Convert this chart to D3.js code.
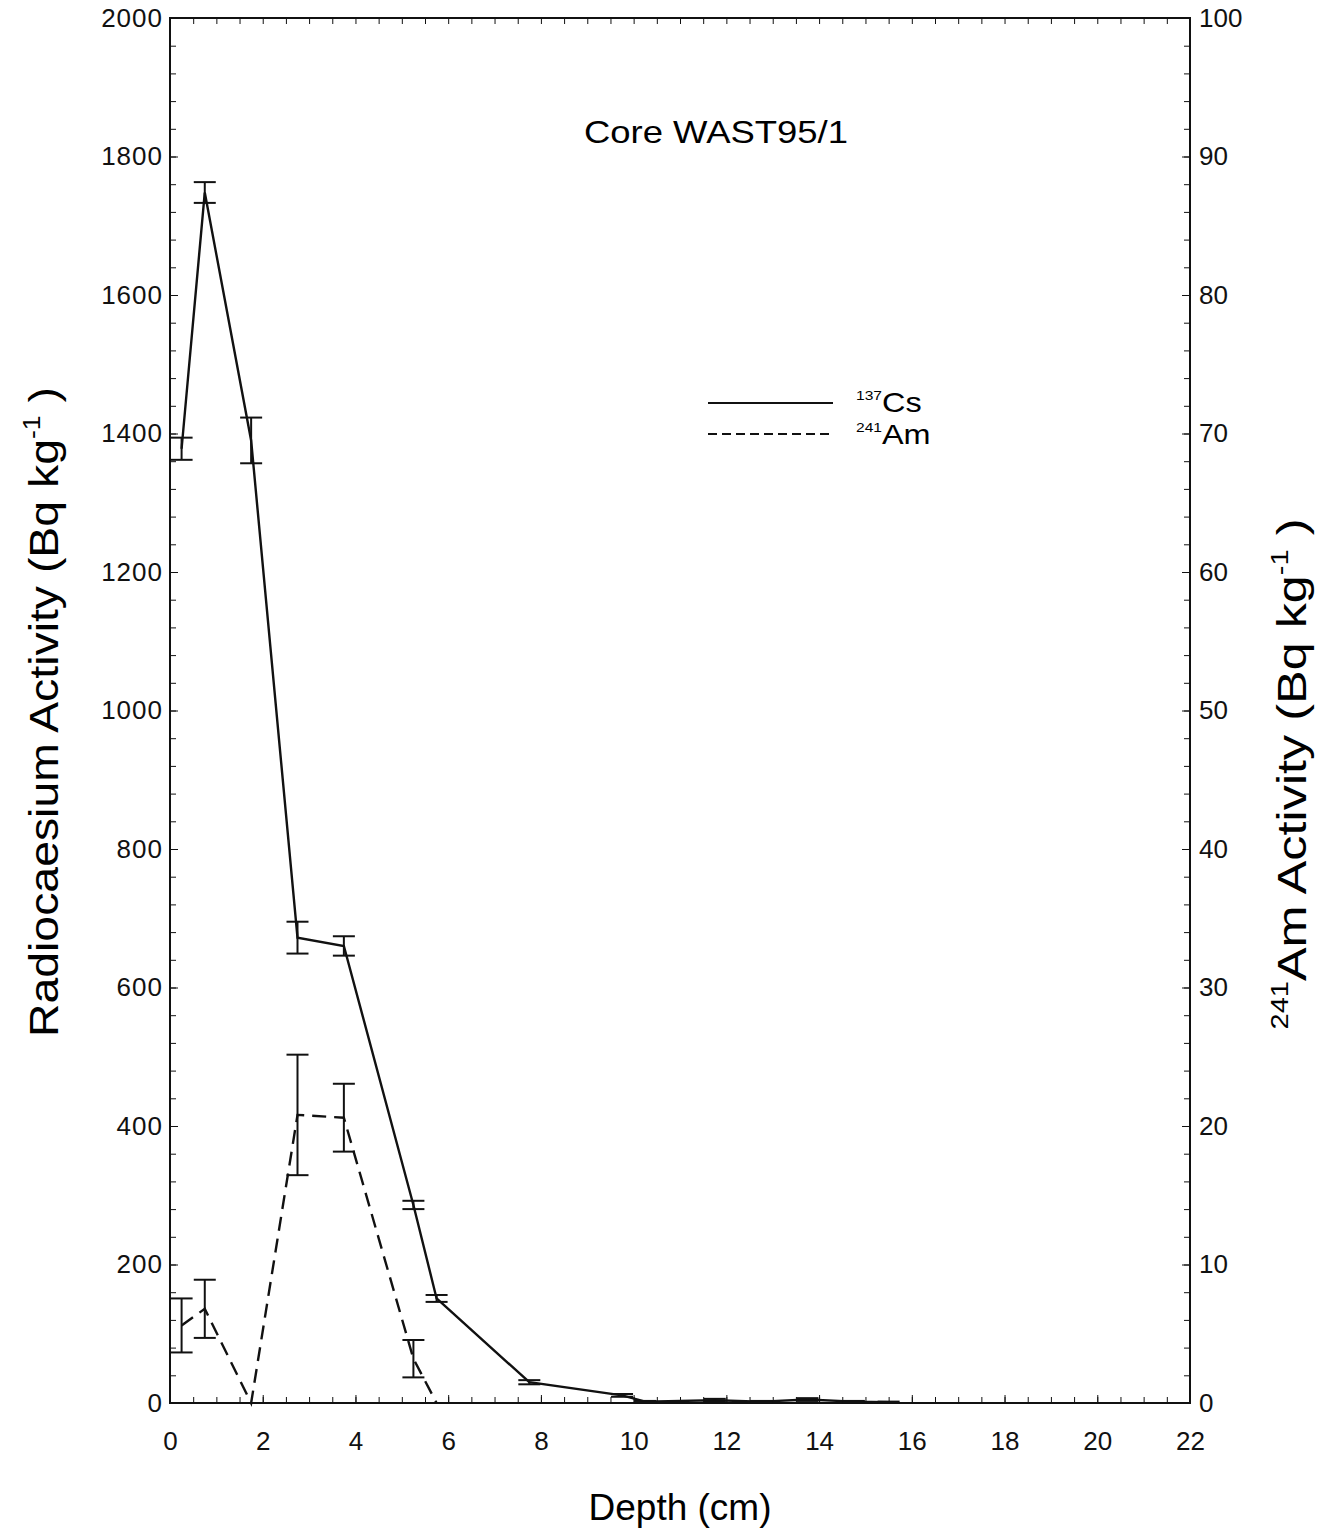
<!DOCTYPE html>
<html>
<head>
<meta charset="utf-8">
<script src="https://cdn.jsdelivr.net/npm/d3@7"></script>
<style>
  body { margin: 0; background: #fff; }
  svg { font-family: "Liberation Sans", Arial, Helvetica, sans-serif; }
  .axis path, .axis line { stroke: #111; }
  .axis text { fill: #111; }
</style>
</head>
<body>
<script>
(function(){

//data
var csDepth = [0.25, 0.75, 1.75, 2.75, 3.75, 5.25, 5.75, 7.75, 9.75, 10.25, 11.75, 12.75, 13.75, 14.75, 15.5];
var csValue = [1378, 1748, 1390, 672, 660, 286, 151, 30, 11, 2, 4, 2, 5, 2, 1];
var csError = [16, 15, 33, 23, 14, 6, 5, 3, 2, 1, 2, 1, 2, 1, 1];

var amDepth = [0.25, 0.75, 1.75, 2.75, 3.75, 5.25, 5.75];
var amValue = [5.6, 6.8, 0, 20.8, 20.6, 3.2, 0];
var amError = [1.95, 2.1, 0, 4.35, 2.45, 1.35, 0];

var xTicks = [0, 2, 4, 6, 8, 10, 12, 14, 16, 18, 20, 22];
var leftTicks = [0, 200, 400, 600, 800, 1000, 1200, 1400, 1600, 1800, 2000];
var rightTicks = [0, 10, 20, 30, 40, 50, 60, 70, 80, 90, 100];

window.onload = drawChart();

function drawChart(){

  var width = 1333,
      height = 1531;

  var left = 170, right = 1190, top = 18, bottom = 1403;

  var svg = d3.select("body")
      .append("svg")
      .attr("width", width)
      .attr("height", height);

  var x = d3.scaleLinear().domain([0, 22]).range([left, right]);
  var yL = d3.scaleLinear().domain([0, 2000]).range([bottom, top]);
  var yR = d3.scaleLinear().domain([0, 100]).range([bottom, top]);

  //minor ticks first, then labelled axes
  var minorX = d3.range(0, 22.01, 0.5);
  var minorL = d3.range(0, 2000.1, 40);

  svg.append("g").attr("class", "axis")
      .attr("transform", "translate(0," + bottom + ")")
      .call(d3.axisBottom(x).tickValues(minorX).tickSize(-6).tickFormat(""))
      .select(".domain").remove();
  svg.append("g").attr("class", "axis")
      .attr("transform", "translate(0," + top + ")")
      .call(d3.axisTop(x).tickValues(minorX).tickSize(-6).tickFormat(""))
      .select(".domain").remove();
  svg.append("g").attr("class", "axis")
      .attr("transform", "translate(" + left + ",0)")
      .call(d3.axisLeft(yL).tickValues(minorL).tickSize(-6).tickFormat(""))
      .select(".domain").remove();
  svg.append("g").attr("class", "axis")
      .attr("transform", "translate(" + right + ",0)")
      .call(d3.axisRight(yL).tickValues(minorL).tickSize(-6).tickFormat(""))
      .select(".domain").remove();

  //frame
  svg.append("rect")
      .attr("x", left).attr("y", top)
      .attr("width", right - left).attr("height", bottom - top)
      .attr("fill", "none").attr("stroke", "#111").attr("stroke-width", 2);

  var fmt = d3.format("d");

  var xAxis = svg.append("g").attr("class", "axis")
      .attr("transform", "translate(0," + bottom + ")")
      .call(d3.axisBottom(x).tickValues(xTicks).tickFormat(fmt).tickSize(-8).tickPadding(29));
  xAxis.select(".domain").remove();
  xAxis.selectAll("text").attr("font-size", 26);

  var lAxis = svg.append("g").attr("class", "axis")
      .attr("transform", "translate(" + left + ",0)")
      .call(d3.axisLeft(yL).tickValues(leftTicks).tickFormat(fmt).tickSize(-8).tickPadding(7));
  lAxis.select(".domain").remove();
  lAxis.selectAll("text").attr("font-size", 26).attr("letter-spacing", 1);

  var rAxis = svg.append("g").attr("class", "axis")
      .attr("transform", "translate(" + right + ",0)")
      .call(d3.axisRight(yR).tickValues(rightTicks).tickFormat(fmt).tickSize(-8).tickPadding(9));
  rAxis.select(".domain").remove();
  rAxis.selectAll("text").attr("font-size", 26);

  //series
  var csData = csDepth.map(function(d, i){ return {x: d, v: csValue[i], e: csError[i]}; });
  var amData = amDepth.map(function(d, i){ return {x: d, v: amValue[i], e: amError[i]}; });

  var csLine = d3.line().x(function(d){ return x(d.x); }).y(function(d){ return yL(d.v); });
  var amLine = d3.line().x(function(d){ return x(d.x); }).y(function(d){ return yR(d.v); });

  svg.append("path").datum(csData)
      .attr("d", csLine)
      .attr("fill", "none").attr("stroke", "#111").attr("stroke-width", 2.4);

  svg.append("path").datum(amData)
      .attr("d", amLine)
      .attr("fill", "none").attr("stroke", "#111").attr("stroke-width", 2.4)
      .attr("stroke-dasharray", "14,8");

  drawErrors(svg, csData, x, yL);
  drawErrors(svg, amData.filter(function(d){ return d.e > 0; }), x, yR);

  //title
  svg.append("text")
      .attr("x", 716).attr("y", 143)
      .attr("text-anchor", "middle")
      .attr("font-size", 32)
      .attr("transform", "translate(716,0) scale(1.14,1) translate(-716,0)")
      .text("Core WAST95/1");

  //legend
  svg.append("line")
      .attr("x1", 708).attr("x2", 833).attr("y1", 403).attr("y2", 403)
      .attr("stroke", "#111").attr("stroke-width", 2);
  svg.append("line")
      .attr("x1", 708).attr("x2", 833).attr("y1", 434).attr("y2", 434)
      .attr("stroke", "#111").attr("stroke-width", 2)
      .attr("stroke-dasharray", "9,5");

  var lgT = "translate(856,0) scale(1.2,1) translate(-856,0)";
  var lg1 = svg.append("text").attr("x", 856).attr("y", 412).attr("font-size", 27).attr("transform", lgT);
  lg1.append("tspan").attr("font-size", 13).attr("dy", -12).text("137");
  lg1.append("tspan").attr("dy", 12).text("Cs");
  var lg2 = svg.append("text").attr("x", 856).attr("y", 444).attr("font-size", 27).attr("transform", lgT);
  lg2.append("tspan").attr("font-size", 13).attr("dy", -12).text("241");
  lg2.append("tspan").attr("dy", 12).text("Am");

  //axis titles
  svg.append("text")
      .attr("x", 680).attr("y", 1520)
      .attr("text-anchor", "middle")
      .attr("font-size", 37)
      .text("Depth (cm)");

  var lt = svg.append("text")
      .attr("transform", "translate(58,712) rotate(-90) scale(1.16,1)")
      .attr("text-anchor", "middle")
      .attr("font-size", 40);
  lt.append("tspan").text("Radiocaesium Activity (Bq kg");
  lt.append("tspan").attr("font-size", 23).attr("dy", -18).text("-1");
  lt.append("tspan").attr("dy", 18).text(" )");

  var rt = svg.append("text")
      .attr("transform", "translate(1306,774) rotate(-90) scale(1.26,1)")
      .attr("text-anchor", "middle")
      .attr("font-size", 40);
  rt.append("tspan").attr("font-size", 23).attr("dy", -18).text("241");
  rt.append("tspan").attr("dy", 18).text("Am Activity (Bq kg");
  rt.append("tspan").attr("font-size", 23).attr("dy", -18).text("-1");
  rt.append("tspan").attr("dy", 18).text(" )");
}

function drawErrors(svg, data, x, y){
  var g = svg.append("g");
  var cap = 11;
  var bars = g.selectAll(".err").data(data).enter().append("g").attr("class", "err");
  bars.append("line")
      .attr("x1", function(d){ return x(d.x); }).attr("x2", function(d){ return x(d.x); })
      .attr("y1", function(d){ return y(d.v - d.e); }).attr("y2", function(d){ return y(d.v + d.e); })
      .attr("stroke", "#111").attr("stroke-width", 2);
  bars.append("line")
      .attr("x1", function(d){ return x(d.x) - cap; }).attr("x2", function(d){ return x(d.x) + cap; })
      .attr("y1", function(d){ return y(d.v + d.e); }).attr("y2", function(d){ return y(d.v + d.e); })
      .attr("stroke", "#111").attr("stroke-width", 2);
  bars.append("line")
      .attr("x1", function(d){ return x(d.x) - cap; }).attr("x2", function(d){ return x(d.x) + cap; })
      .attr("y1", function(d){ return y(d.v - d.e); }).attr("y2", function(d){ return y(d.v - d.e); })
      .attr("stroke", "#111").attr("stroke-width", 2);
}

})();
</script>
</body>
</html>
